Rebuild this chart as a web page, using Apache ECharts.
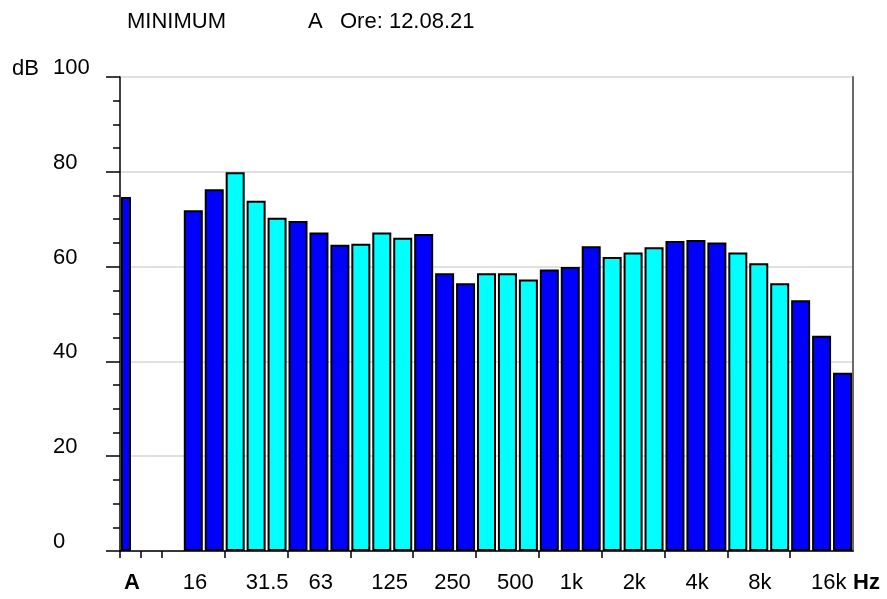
<!DOCTYPE html>
<html>
<head>
<meta charset="utf-8">
<script src="https://cdn.jsdelivr.net/npm/echarts@6/dist/echarts.min.js"></script>
<style>
  html, body { margin: 0; padding: 0; background: #fff; }
  #chart { width: 887px; height: 599px; }
</style>
</head>
<body>
<div id="chart"></div>
<script>
// Third-octave band centre frequencies (Hz), 12.5 Hz to 20 kHz
const bands = ['12.5', '16', '20', '25', '31.5', '40', '50', '63', '80', '100', '125', '160',
  '200', '250', '315', '400', '500', '630', '800', '1k', '1.25k', '1.6k', '2k', '2.5k',
  '3.15k', '4k', '5k', '6.3k', '8k', '10k', '12.5k', '16k', '20k'];

// Minimum band levels (dB); 12.5 Hz not measured
const levels = [null, 71.9, 76.3, 79.9, 73.9, 70.3, 69.6, 67.2, 64.6, 64.8, 67.2, 66.1,
  66.9, 58.6, 56.5, 58.6, 58.6, 57.3, 59.4, 59.9, 64.3, 62.0, 63.0, 64.1,
  65.4, 65.6, 65.1, 63.0, 60.7, 56.5, 52.9, 45.4, 37.6];

// A-weighted overall level (dB)
const levelA = 74.7;

// Frequencies printed under the axis
const tickLabels = ['16', '31.5', '63', '125', '250', '500', '1k', '2k', '4k', '8k', '16k'];

const titleText = 'MINIMUM';
const weightText = 'A';
const timeText = 'Ore: 12.08.21';

// Slot layout on the x axis: overall 'A', a spacer, then the bands
const categories = ['A', ''].concat(bands);
const lead = 2;
const slotCount = categories.length;

const bandSeries = categories.map((c, i) => (i < lead ? null : levels[i - lead]));
const aSeries = categories.map((c, i) => (i === 0 ? levelA : null));

// Octave groups alternate blue / cyan (groups of three bands starting at 12.5 Hz)
function bandColor(slot) {
  return Math.floor((slot - lead) / 3) % 2 === 0 ? '#0000ff' : '#00ffff';
}

// Label / tick positions on the slot scale
const labelSlots = [0].concat(tickLabels.map(t => bands.indexOf(t) + lead)).concat([slotCount]);
const tickSlots = [0, 1, 2];
for (let s = lead + 3; s < slotCount; s += 3) tickSlots.push(s);

const FONT = "'Liberation Sans', Arial, sans-serif";
const FS = 22;
const txt = { fontFamily: FONT, fontSize: FS, fontWeight: 'normal', color: '#000' };

const chart = echarts.init(document.getElementById('chart'), null, { renderer: 'canvas' });
chart.setOption({
  animation: false,
  backgroundColor: '#ffffff',
  textStyle: { fontFamily: FONT, color: '#000' },
  title: [
    { text: titleText, left: 127, top: 11, padding: 0, textStyle: txt },
    { text: weightText, left: 308, top: 11, padding: 0, textStyle: txt },
    { text: timeText, left: 340, top: 11, padding: 0, textStyle: txt },
    { text: 'dB', left: 12, top: 58, padding: 0, textStyle: txt }
  ],
  grid: { left: 120, right: 34, top: 77, bottom: 48, containLabel: false },
  xAxis: [
    {
      type: 'category',
      position: 'bottom',
      data: categories,
      boundaryGap: true,
      axisLine: { show: true, lineStyle: { color: '#000', width: 1.5 } },
      axisTick: { show: false },
      axisLabel: { show: false },
      splitLine: { show: false }
    },
    {
      type: 'value',
      position: 'bottom',
      min: 0,
      max: slotCount,
      axisLine: { show: false },
      splitLine: { show: false },
      axisTick: {
        show: true,
        customValues: tickSlots,
        length: 7,
        lineStyle: { color: '#000', width: 1.5 }
      },
      axisLabel: {
        show: true,
        customValues: labelSlots,
        showMinLabel: true,
        showMaxLabel: true,
        align: 'left',
        margin: 21,
        fontFamily: FONT,
        fontSize: FS,
        color: '#000',
        formatter: function (v) {
          if (v === 0) return '{b|A}';
          if (v === slotCount) return '{h|Hz}';
          return '{n|' + categories[v] + '}';
        },
        rich: {
          b: { fontFamily: FONT, fontSize: FS, fontWeight: 'bold', color: '#000', padding: [0, 0, 0, 4] },
          h: { fontFamily: FONT, fontSize: FS, fontWeight: 'bold', color: '#000', padding: [0, 0, 0, 0] },
          n: { fontFamily: FONT, fontSize: FS, color: '#000', padding: [0, 0, 0, 0] }
        }
      }
    }
  ],
  yAxis: [
    {
      type: 'value',
      position: 'left',
      min: 0,
      max: 100,
      interval: 20,
      axisLine: { show: true, lineStyle: { color: '#000', width: 1.5 } },
      axisTick: { show: true, length: 14, lineStyle: { color: '#000', width: 1.5 } },
      minorTick: { show: true, splitNumber: 4, length: 7, lineStyle: { color: '#000', width: 1.5 } },
      splitLine: { show: true, lineStyle: { color: '#d8d5d1', width: 1.5 } },
      axisLabel: {
        align: 'left',
        verticalAlign: 'bottom',
        lineHeight: 18,
        margin: 67,
        fontFamily: FONT,
        fontSize: FS,
        color: '#000'
      }
    },
    {
      type: 'value',
      position: 'right',
      min: 0,
      max: 100,
      axisLine: { show: true, lineStyle: { color: '#6a6a6a', width: 2 } },
      axisTick: { show: false },
      axisLabel: { show: false },
      splitLine: { show: false }
    }
  ],
  series: [
    {
      name: 'A',
      type: 'bar',
      xAxisIndex: 0,
      yAxisIndex: 0,
      data: aSeries,
      barWidth: 10,
      barGap: '-100%',
      itemStyle: { color: '#0000ff', borderColor: '#000', borderWidth: 2 },
      emphasis: { disabled: true },
      silent: true
    },
    {
      name: 'Bands',
      type: 'bar',
      xAxisIndex: 0,
      yAxisIndex: 0,
      data: bandSeries,
      barWidth: 19,
      barGap: '-100%',
      itemStyle: {
        color: p => bandColor(p.dataIndex),
        borderColor: '#000',
        borderWidth: 2
      },
      emphasis: { disabled: true },
      silent: true
    }
  ]
});
</script>
</body>
</html>
